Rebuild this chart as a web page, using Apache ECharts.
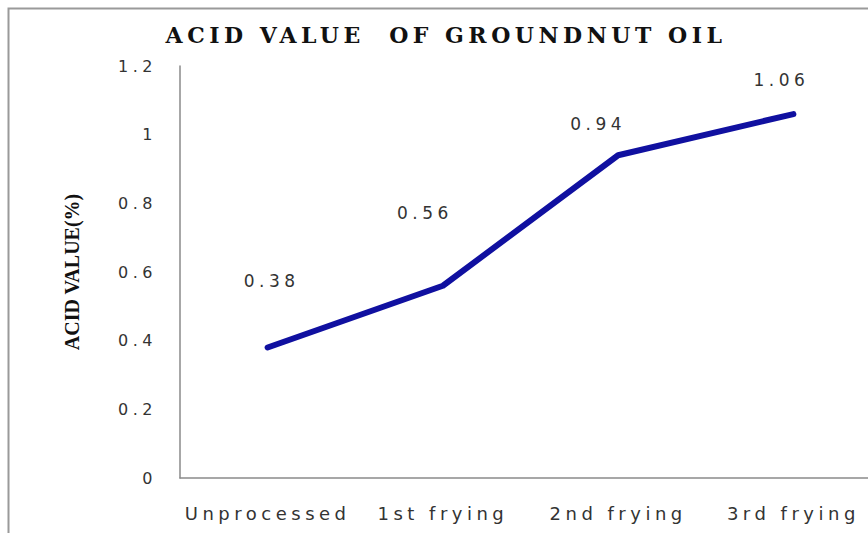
<!DOCTYPE html>
<html>
<head>
<meta charset="utf-8">
<script src="https://cdn.jsdelivr.net/npm/echarts@6/dist/echarts.min.js"></script>
<style>
  html, body { margin: 0; padding: 0; background: #fff; }
  #chart { width: 868px; height: 533px; }
  /* the source picture is stretched wide, so open the letters up */
  #chart svg text { letter-spacing: 4.5px; }
  #chart svg text[style*="Liberation Serif"] { letter-spacing: 0; }
</style>
</head>
<body>
<div id="chart"></div>
<script>
const categories = ["Unprocessed", "1st frying", "2nd frying", "3rd frying"];
const acidValues = [0.38, 0.56, 0.94, 1.06];
// label placement relative to each point (the source puts them loosely above)
const labelOffsets = [[4, -53], [-18, -59], [-20, -17], [-12, -20]];

const chart = echarts.init(document.getElementById("chart"), null, { renderer: "svg" });

chart.setOption({
  backgroundColor: "#fff",
  animation: false,
  title: {
    text: "ACID VALUE  OF GROUNDNUT OIL",
    left: 441,
    textAlign: "center",
    top: 19,
    textStyle: {
      fontFamily: "DejaVu Serif",
      fontWeight: "bold",
      fontSize: 22,
      color: "#111",
    },
  },
  graphic: [
    {
      type: "rect",
      left: 6,
      top: 6,
      shape: { width: 900, height: 600 },
      style: { fill: "none", stroke: "#9a9a9a", lineWidth: 2 },
    },
  ],
  grid: {
    left: 180,
    top: 66,
    width: 701,
    bottom: 55,
    outerBoundsMode: "none",
  },
  xAxis: {
    type: "category",
    data: categories,
    boundaryGap: true,
    axisLine: { lineStyle: { color: "#8a8a8a", width: 1.5 } },
    axisTick: { show: false },
    axisLabel: {
      margin: 26,
      fontFamily: "DejaVu Sans",
      fontSize: 18,
      color: "#333",
    },
  },
  yAxis: {
    type: "value",
    min: 0,
    max: 1.2,
    interval: 0.2,
    name: "ACID VALUE(%)",
    nameLocation: "middle",
    nameGap: 98,
    nameRotate: 90,
    nameTextStyle: {
      fontFamily: "Liberation Serif",
      fontWeight: "bold",
      fontSize: 20,
      color: "#111",
    },
    axisLine: { show: true, lineStyle: { color: "#8a8a8a", width: 1.5 } },
    axisTick: { show: false },
    splitLine: { show: false },
    axisLabel: {
      margin: 23,
      fontFamily: "DejaVu Sans",
      fontSize: 16,
      color: "#333",
      formatter: (v) => String(Math.round(v * 10) / 10),
    },
  },
  series: [
    {
      type: "line",
      data: acidValues.map((v, i) => ({
        value: v,
        label: { offset: labelOffsets[i] },
      })),
      symbol: "circle",
      symbolSize: 1,
      itemStyle: { color: "#1010a0" },
      lineStyle: { color: "#1010a0", width: 6, cap: "round", join: "round" },
      label: {
        show: true,
        position: "top",
        fontFamily: "DejaVu Sans",
        fontSize: 17,
        color: "#333",
        formatter: (p) => p.value.toFixed(2),
      },
    },
  ],
});
</script>
</body>
</html>
